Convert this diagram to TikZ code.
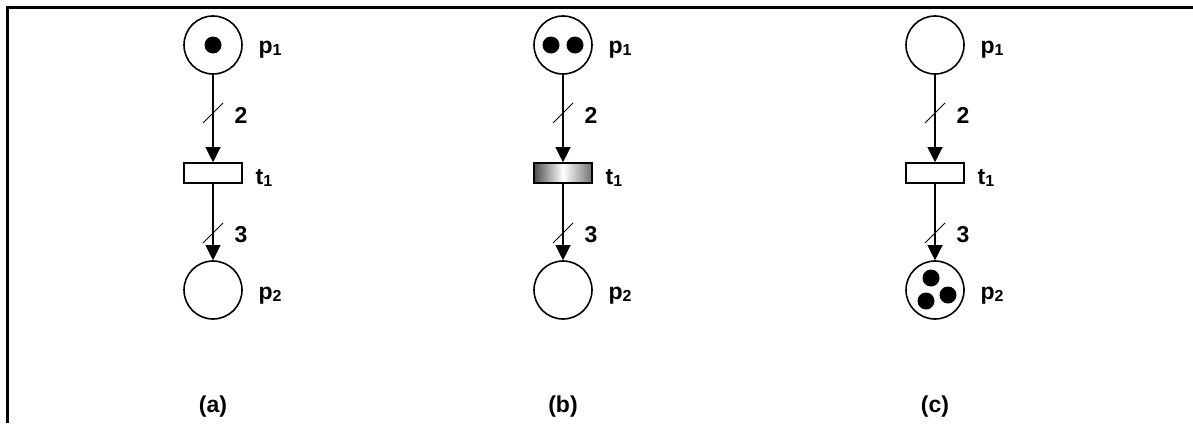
\documentclass[tikz,border=0pt]{standalone}
\usepackage{fontspec}
\setmainfont{Liberation Sans}
\usetikzlibrary{arrows.meta,calc}
\newcommand{\sbone}[1]{{\fontsize{16}{16}\selectfont\raisebox{-2pt}{#1}}}
\begin{document}
\begin{tikzpicture}[x=1pt,y=-1pt,
  place/.style={circle,draw,line width=1.6pt,minimum size=58pt,inner sep=0pt},
  trans/.style={rectangle,draw,line width=1.6pt,minimum width=58pt,minimum height=20pt,inner sep=0pt,fill=white},
  token/.style={circle,fill=black,minimum size=17pt,inner sep=0pt},
  arc/.style={line width=1.2pt,-{Triangle[length=15pt,width=15pt]}},
  slashmark/.style={line width=1pt},
  lbl/.style={font=\fontsize{23}{23}\selectfont\bfseries,inner sep=0pt},
  frame/.style={line width=3pt}]
\useasboundingbox (0,0) rectangle (1193,423);
\coordinate (fa) at (7,423);
\coordinate (fb) at (7,7);
\coordinate (fc) at (1193,7);
\draw[frame] (fa) -- (fb) -- (fc);
% ---------- column a ----------
\node[place] (ap1) at (213,45) {};
\node[trans] (at1) at (213,173) {};
\node[place] (ap2) at (213,290) {};
\node[token] (atk) at (213,45) {};
\draw[arc] (ap1) -- (at1);
\draw[arc] (at1) -- (ap2);
\coordinate (am1) at (213,113);
\coordinate (am2) at (213,233);
\draw[slashmark] ($(am1)+(-10,10)$) -- ($(am1)+(10,-10)$);
\draw[slashmark] ($(am2)+(-10,10)$) -- ($(am2)+(10,-10)$);
\node[lbl] (alp1) at (270,50) {p\sbone{1}};
\node[lbl] (al2) at (241,115) {2};
\node[lbl] (alt1) at (264,178) {t\sbone{1}};
\node[lbl] (al3) at (241,235) {3};
\node[lbl] (alp2) at (270,296) {p\sbone{2}};
\node[lbl] (acap) at (213,407) {(a)};
% ---------- column b ----------
\node[place] (bp1) at (563,45) {};
\node[trans,left color=black!70,right color=black!55,middle color=white] (bt1) at (563,173) {};
\node[place] (bp2) at (563,290) {};
\node[token] (btk1) at (551,45) {};
\node[token] (btk2) at (575,45) {};
\draw[arc] (bp1) -- (bt1);
\draw[arc] (bt1) -- (bp2);
\coordinate (bm1) at (563,113);
\coordinate (bm2) at (563,233);
\draw[slashmark] ($(bm1)+(-10,10)$) -- ($(bm1)+(10,-10)$);
\draw[slashmark] ($(bm2)+(-10,10)$) -- ($(bm2)+(10,-10)$);
\node[lbl] (blp1) at (620,50) {p\sbone{1}};
\node[lbl] (bl2) at (591,115) {2};
\node[lbl] (blt1) at (614,178) {t\sbone{1}};
\node[lbl] (bl3) at (591,235) {3};
\node[lbl] (blp2) at (620,296) {p\sbone{2}};
\node[lbl] (bcap) at (563,407) {(b)};
% ---------- column c ----------
\node[place] (cp1) at (935,45) {};
\node[trans] (ct1) at (935,173) {};
\node[place] (cp2) at (935,290) {};
\node[token] (ctk1) at (931,278) {};
\node[token] (ctk2) at (926,301) {};
\node[token] (ctk3) at (948,295) {};
\draw[arc] (cp1) -- (ct1);
\draw[arc] (ct1) -- (cp2);
\coordinate (cm1) at (935,113);
\coordinate (cm2) at (935,233);
\draw[slashmark] ($(cm1)+(-10,10)$) -- ($(cm1)+(10,-10)$);
\draw[slashmark] ($(cm2)+(-10,10)$) -- ($(cm2)+(10,-10)$);
\node[lbl] (clp1) at (992,50) {p\sbone{1}};
\node[lbl] (cl2) at (963,115) {2};
\node[lbl] (clt1) at (986,178) {t\sbone{1}};
\node[lbl] (cl3) at (963,235) {3};
\node[lbl] (clp2) at (992,296) {p\sbone{2}};
\node[lbl] (ccap) at (935,407) {(c)};
\end{tikzpicture}
\end{document}
